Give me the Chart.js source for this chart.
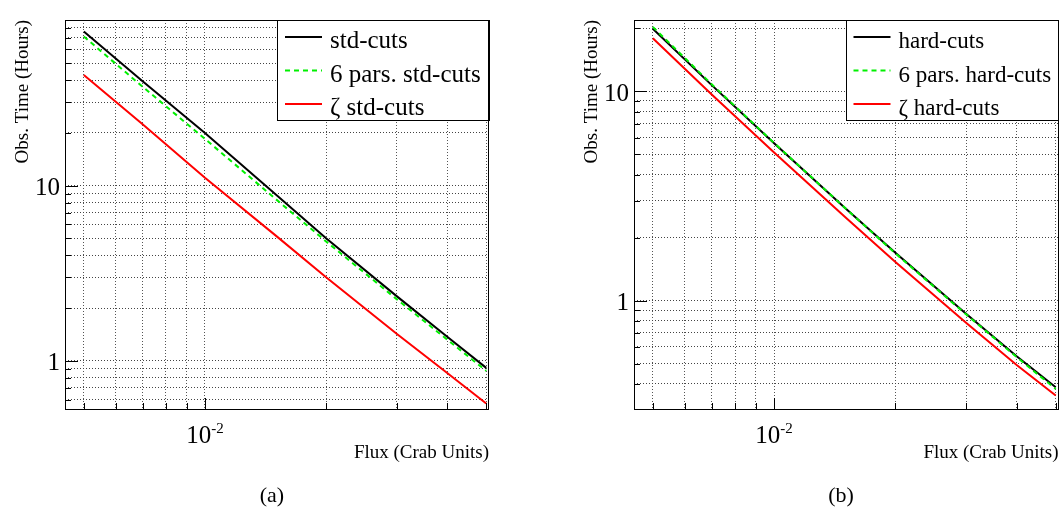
<!DOCTYPE html>
<html>
<head>
<meta charset="utf-8">
<script src="https://cdn.jsdelivr.net/npm/chart.js@4/dist/chart.umd.min.js"></script>
<style>
  html, body { margin: 0; padding: 0; background: #fff; }
  body { width: 1059px; height: 510px; position: relative; overflow: hidden; }
  canvas { position: absolute; top: 0; }
  #cA { left: 0; }
  #cB { left: 569px; }
  .cap { position: absolute; top: 482px; width: 60px; text-align: center;
         font: 22px "Liberation Serif", serif; color: #000; }
</style>
</head>
<body>
<canvas id="cA" width="530" height="510"></canvas>
<canvas id="cB" width="490" height="510"></canvas>
<div class="cap" style="left:242px">(a)</div>
<div class="cap" style="left:811px">(b)</div>
<script>
// Flux values (Crab units) at which the observation times are given
const flux = [0.005, 0.007, 0.01, 0.015, 0.02, 0.03, 0.04, 0.05];

// (a) standard cuts — observation time in hours
const stdCuts       = [76, 39.5, 20, 8.9, 5.0, 2.33, 1.37, 0.91];
const stdCuts6Pars  = [71.1, 36.7, 18.5, 8.37, 4.8, 2.24, 1.32, 0.875];
const stdCutsZeta   = [42.8, 22.4, 11.1, 5.18, 3.0, 1.42, 0.85, 0.57];

// (b) hard cuts — observation time in hours
const hardCuts      = [19.9, 10.7, 5.64, 2.77, 1.69, 0.862, 0.542, 0.385];
const hardCuts6Pars = [20.3, 10.8, 5.66, 2.77, 1.68, 0.857, 0.537, 0.378];
const hardCutsZeta  = [17.9, 9.65, 5.1, 2.51, 1.53, 0.782, 0.492, 0.352];

// Labels of the series
const labelsA = ['std-cuts', '6 pars. std-cuts', '\u03B6 std-cuts'];
const labelsB = ['hard-cuts', '6 pars. hard-cuts', '\u03B6 hard-cuts'];

// Labelled decades on each axis
const yTickLabels = ['1', '10'];
const xTickDecades = [-2];            // 10^-2
const minorMultipliers = [1, 2, 3, 4, 5, 6, 7, 8, 9];

const SERIF = '"Liberation Serif", "Times New Roman", serif';

function isDecade(v) {
  const l = Math.log10(v);
  return Math.abs(l - Math.round(l)) < 1e-9;
}

function logTicks(min, max) {
  const out = [];
  for (let e = Math.floor(Math.log10(min)); e <= Math.ceil(Math.log10(max)); e++) {
    for (const m of minorMultipliers) {
      const v = +(m * Math.pow(10, e)).toPrecision(6);
      if (v > min && v < max) out.push({ value: v });
    }
  }
  return out;
}

function toPoints(ys) {
  return flux.map((f, i) => ({ x: f, y: ys[i] }));
}

// Frame, inward tick marks, x decade labels and boxed legend
const decor = {
  id: 'decor',
  afterDatasetsDraw(chart, args, opts) {
    const { ctx, chartArea: a, scales: { x, y } } = chart;
    ctx.save();

    // tick marks pointing into the frame
    ctx.strokeStyle = '#000';
    ctx.lineWidth = 1;
    ctx.setLineDash([]);
    ctx.beginPath();
    y.ticks.forEach(t => {
      const py = Math.round(y.getPixelForValue(t.value)) + 0.5;
      const len = isDecade(t.value) ? 13 : 6;
      ctx.moveTo(a.left, py); ctx.lineTo(a.left + len, py);
    });
    x.ticks.forEach(t => {
      const px = Math.round(x.getPixelForValue(t.value)) + 0.5;
      const len = isDecade(t.value) ? 12 : 7;
      ctx.moveTo(px, a.bottom); ctx.lineTo(px, a.bottom - len);
    });
    ctx.stroke();

    // x labels: 10 with raised exponent
    ctx.fillStyle = '#000';
    ctx.textBaseline = 'alphabetic';
    ctx.textAlign = 'left';
    xTickDecades.forEach(e => {
      const px = x.getPixelForValue(Math.pow(10, e));
      const base = '10', sup = String(e);
      ctx.font = '25px ' + SERIF;
      const wb = ctx.measureText(base).width;
      ctx.font = '15px ' + SERIF;
      const ws = ctx.measureText(sup).width;
      const x0 = px - (wb + ws) / 2;
      ctx.font = '25px ' + SERIF;
      ctx.fillText(base, x0, a.bottom + 33);
      ctx.font = '15px ' + SERIF;
      ctx.fillText(sup, x0 + wb, a.bottom + 23);
    });

    // legend box in the top-right corner
    const lw = opts.legendWidth, lh = 100;
    const lx = a.right - lw, ly = a.top;
    ctx.fillStyle = '#fff';
    ctx.fillRect(lx, ly, lw, lh);
    ctx.strokeStyle = '#000';
    ctx.lineWidth = 1;
    ctx.strokeRect(Math.round(lx) + 0.5, Math.round(ly) + 0.5, Math.round(lw), lh);
    chart.data.datasets.forEach((ds, i) => {
      const cy = ly + 17 + i * 33.5;
      ctx.beginPath();
      ctx.strokeStyle = ds.borderColor;
      ctx.lineWidth = ds.borderWidth;
      ctx.setLineDash(ds.borderDash || []);
      ctx.moveTo(lx + 8, cy); ctx.lineTo(lx + 45, cy);
      ctx.stroke();
      ctx.setLineDash([]);
      ctx.fillStyle = '#000';
      ctx.font = opts.legendFontSize + 'px ' + SERIF;
      ctx.fillText(ds.label, lx + 53, cy + 11);
    });

    // frame
    ctx.strokeStyle = '#000';
    ctx.lineWidth = 1;
    ctx.strokeRect(Math.round(a.left) + 0.5, Math.round(a.top) + 0.5,
                   Math.round(a.right - a.left) - 1, Math.round(a.bottom - a.top) - 1);
    ctx.restore();
  }
};

function makeChart(id, series, labels, yMin, yMax, padRight, legendWidth, legendFontSize) {
  const colors = ['#000000', '#00f000', '#ff0000'];
  const dashes = [[], [5, 4], []];
  const orders = [2, 0, 1];
  const datasets = series.map((s, i) => ({
    label: labels[i],
    data: toPoints(s),
    borderColor: colors[i],
    borderWidth: 2,
    borderDash: dashes[i],
    pointRadius: 0,
    showLine: true,
    fill: false,
    tension: 0,
    order: orders[i]
  }));
  const xMin = 0.00449, xMax = 0.0508;
  return new Chart(document.getElementById(id), {
    type: 'scatter',
    data: { datasets },
    plugins: [decor],
    options: {
      responsive: false,
      animation: false,
      events: [],
      layout: { padding: { left: 0, right: padRight, top: 9, bottom: 41 } },
      plugins: {
        legend: { display: false },
        tooltip: { enabled: false },
        decor: { legendWidth, legendFontSize }
      },
      scales: {
        x: {
          type: 'logarithmic',
          min: xMin, max: xMax,
          afterBuildTicks: s => { s.ticks = logTicks(xMin, xMax); },
          afterFit: s => { s.height = 59; },
          ticks: { display: false },
          grid: { color: '#555', lineWidth: 1, drawTicks: false },
          border: { display: false, dash: [1, 2] },
          title: {
            display: true, text: 'Flux (Crab Units)', align: 'end',
            color: '#000', font: { family: SERIF, size: 19 },
            padding: { top: 0, bottom: 5 }
          }
        },
        y: {
          type: 'logarithmic',
          min: yMin, max: yMax,
          afterBuildTicks: s => { s.ticks = logTicks(yMin, yMax); },
          afterFit: s => { s.width = 65; },
          ticks: {
            autoSkip: false,
            color: '#000',
            padding: 5,
            labelOffset: 3,
            font: { family: SERIF, size: 25 },
            callback: v => {
              const lbl = String(+v.toPrecision(6));
              return yTickLabels.includes(lbl) ? lbl : '';
            }
          },
          grid: { color: '#444', lineWidth: 1, drawTicks: false },
          border: { display: false, dash: [1, 2] },
          title: {
            display: true, text: 'Obs. Time (Hours)', align: 'end',
            color: '#000', font: { family: SERIF, size: 19 },
            padding: { top: 11.6, bottom: 0 }
          }
        }
      }
    }
  });
}

makeChart('cA', [stdCuts, stdCuts6Pars, stdCutsZeta], labelsA, 0.523, 88.3, 41, 212, 25);
makeChart('cB', [hardCuts, hardCuts6Pars, hardCutsZeta], labelsB, 0.336, 21.9, 0.5, 213, 23);
</script>
</body>
</html>
